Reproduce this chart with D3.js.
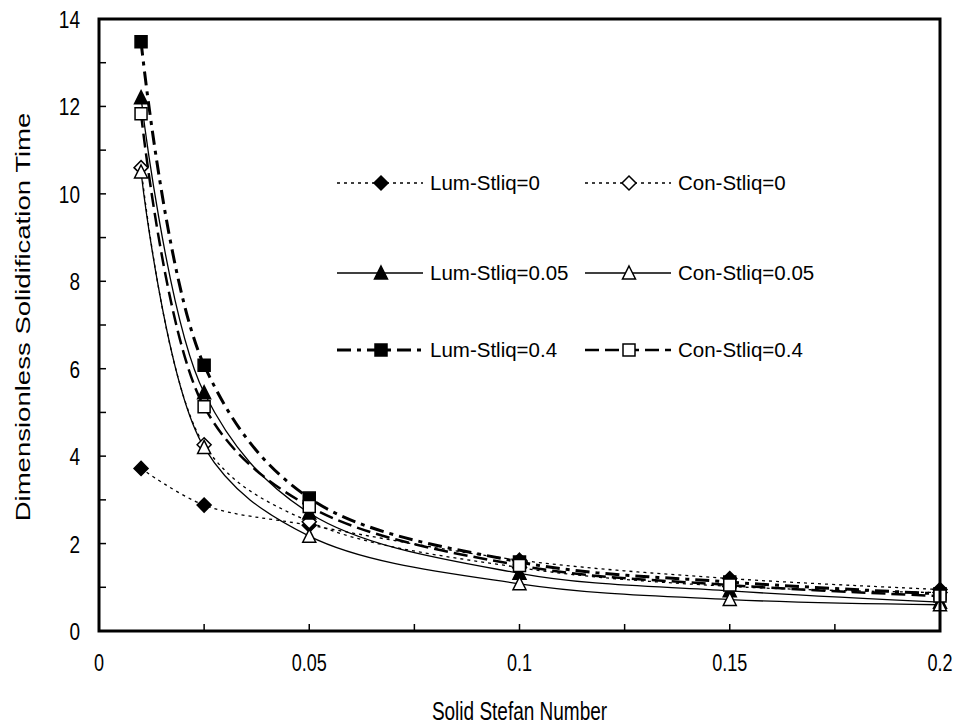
<!DOCTYPE html>
<html>
<head>
<meta charset="utf-8">
<script src="https://cdn.jsdelivr.net/npm/d3@7"></script>
<style>
  body { margin: 0; background: #fff; }
  svg text { font-family: "Liberation Sans", Arial, sans-serif; fill: #000; }
</style>
</head>
<body>
<div id="chart"></div>
<script>
// data
var stefan = [0.01, 0.025, 0.05, 0.1, 0.15, 0.2];
var lum0  = [3.72, 2.88, 2.42, 1.62, 1.2, 0.95];
var con0  = [10.6, 4.26, 2.5, 1.45, 1.02, 0.88];
var lum05 = [12.2, 5.45, 2.7, 1.32, 0.92, 0.66];
var con05 = [10.5, 4.2, 2.17, 1.08, 0.72, 0.6];
var lum04 = [13.48, 6.08, 3.04, 1.58, 1.12, 0.85];
var con04 = [11.83, 5.13, 2.85, 1.5, 1.05, 0.8];
var xTicks = [0, 0.05, 0.1, 0.15, 0.2];
var yTicks = [0, 2, 4, 6, 8, 10, 12, 14];

var series = [
  {name: 'Lum-Stliq=0',    values: lum0,  shape: 'diamond',  fill: '#000', dash: '3,4',      width: 1.3},
  {name: 'Con-Stliq=0',    values: con0,  shape: 'diamond',  fill: '#fff', dash: '3,4',      width: 1.3},
  {name: 'Lum-Stliq=0.05', values: lum05, shape: 'triangle', fill: '#000', dash: null,       width: 1.3},
  {name: 'Con-Stliq=0.05', values: con05, shape: 'triangle', fill: '#fff', dash: null,       width: 1.3},
  {name: 'Lum-Stliq=0.4',  values: lum04, shape: 'square',   fill: '#000', dash: '14,6,4,6', width: 3},
  {name: 'Con-Stliq=0.4',  values: con04, shape: 'square',   fill: '#fff', dash: '14,6',     width: 2.5}
];

var W = 962, H = 728;
var margin = {top: 19, right: 22, bottom: 97, left: 99};
var width = W - margin.left - margin.right,
    height = H - margin.top - margin.bottom;

var svg = d3.select('#chart').append('svg')
    .attr('width', W)
    .attr('height', H);

var g = svg.append('g')
    .attr('transform', 'translate(' + margin.left + ',' + margin.top + ')');

var x = d3.scaleLinear().domain([0, 0.2]).range([0, width]);
var y = d3.scaleLinear().domain([0, 14]).range([height, 0]);

// minor inward ticks
g.selectAll('.xtick')
  .data(d3.range(0, 0.2001, 0.025)).enter()
  .append('line')
    .attr('x1', function (d) { return x(d); })
    .attr('x2', function (d) { return x(d); })
    .attr('y1', height)
    .attr('y2', height - 7)
    .attr('stroke', '#000')
    .attr('stroke-width', 1.5);

g.selectAll('.ytick')
  .data(d3.range(0, 15, 1)).enter()
  .append('line')
    .attr('x1', 0)
    .attr('x2', 7)
    .attr('y1', function (d) { return y(d); })
    .attr('y2', function (d) { return y(d); })
    .attr('stroke', '#000')
    .attr('stroke-width', 1.5);

// tick labels (the original text looks a bit stretched vertically)
g.selectAll('.xlab')
  .data(xTicks).enter()
  .append('text')
    .attr('transform', function (d) { return 'translate(' + x(d) + ',' + (height + 40) + ') scale(0.95,1.3)'; })
    .attr('text-anchor', 'middle')
    .attr('font-size', 19)
    .text(function (d) { return d; });

g.selectAll('.ylab')
  .data(yTicks).enter()
  .append('text')
    .attr('transform', function (d) { return 'translate(-19,' + (y(d) + 9) + ') scale(1,1.3)'; })
    .attr('text-anchor', 'end')
    .attr('font-size', 19)
    .text(function (d) { return d; });

// axis titles
svg.append('text')
  .attr('transform', 'translate(' + (margin.left + width / 2) + ',720) scale(1,1.35)')
  .attr('text-anchor', 'middle')
  .attr('font-size', 19)
  .text('Solid Stefan Number');

svg.append('text')
  .attr('transform', 'translate(30,' + (margin.top + height / 2 - 8) + ') rotate(-90) scale(1.45,1.05)')
  .attr('text-anchor', 'middle')
  .attr('font-size', 19)
  .text('Dimensionless Solidification Time');

// lines
var line = d3.line()
    .x(function (d) { return x(d[0]); })
    .y(function (d) { return y(d[1]); })
    .curve(d3.curveCatmullRom.alpha(0.5));

series.forEach(function (s) {
  g.append('path')
    .datum(stefan.map(function (v, i) { return [v, s.values[i]]; }))
    .attr('fill', 'none')
    .attr('stroke', '#000')
    .attr('stroke-width', s.width)
    .attr('stroke-dasharray', s.dash)
    .attr('d', line);
});

function marker(sel, shape, fill) {
  var p;
  if (shape === 'diamond') p = 'M0,-7L7,0L0,7L-7,0Z';
  else if (shape === 'triangle') p = 'M0,-7L6.5,6L-6.5,6Z';
  else p = 'M-6,-6H6V6H-6Z';
  sel.append('path')
    .attr('d', p)
    .attr('fill', fill)
    .attr('stroke', '#000')
    .attr('stroke-width', 1.5);
}

series.forEach(function (s) {
  stefan.forEach(function (v, i) {
    var m = g.append('g')
      .attr('transform', 'translate(' + x(v) + ',' + y(s.values[i]) + ')');
    marker(m, s.shape, s.fill);
  });
});

// frame
g.append('rect')
  .attr('width', width)
  .attr('height', height)
  .attr('fill', 'none')
  .attr('stroke', '#000')
  .attr('stroke-width', 3);

// legend, two columns, three rows
var legRows = [183, 273, 350];
var legCols = [337, 585];
series.forEach(function (s, i) {
  var lx = legCols[i % 2], ly = legRows[Math.floor(i / 2)];
  var lg = svg.append('g').attr('transform', 'translate(' + lx + ',' + ly + ')');
  lg.append('line')
    .attr('x1', 0).attr('x2', 86)
    .attr('stroke', '#000')
    .attr('stroke-width', s.width)
    .attr('stroke-dasharray', s.dash);
  var m = lg.append('g').attr('transform', 'translate(44,0)');
  marker(m, s.shape, s.fill);
  lg.append('text')
    .attr('x', 93)
    .attr('y', 7)
    .attr('font-size', 20.5)
    .text(s.name);
});
</script>
</body>
</html>
